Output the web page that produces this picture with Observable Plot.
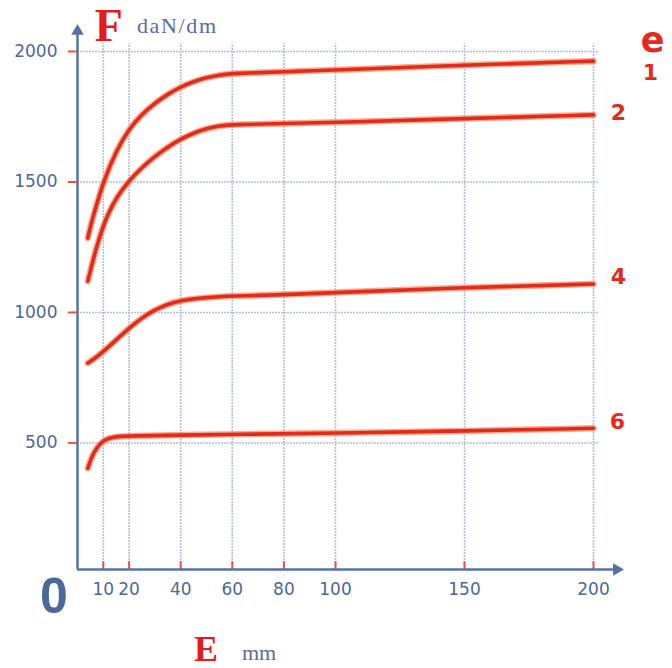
<!DOCTYPE html>
<html><head><meta charset="utf-8">
<script src="https://cdn.jsdelivr.net/npm/d3@7"></script>
<script src="https://cdn.jsdelivr.net/npm/@observablehq/plot@0.6"></script>
<style>body{margin:0;background:#fff}</style>
</head><body><div id="chart"></div>
<script>
// Tick values
const xTicks = [10, 20, 40, 60, 80, 100, 150, 200];
const yTicks = [500, 1000, 1500, 2000];
// Series (e = thickness) : E (mm) vs F (daN/dm)
const seriesNames = ["1", "2", "4", "6"];
const e1X = [4, 5, 7, 10, 15, 20, 25, 30, 35, 40, 45, 50, 55, 60, 80, 100, 150, 200];
const e1F = [1285, 1329, 1400, 1500, 1620, 1704, 1760, 1802, 1837, 1864, 1885, 1900, 1910, 1916, 1922, 1929, 1948, 1963];
const e2X = [4, 6, 8, 10, 12, 15, 20, 25, 30, 35, 40, 45, 50, 55, 60, 80, 100, 150, 200];
const e2F = [1120, 1200, 1270, 1332, 1380, 1440, 1505, 1556, 1598, 1634, 1664, 1688, 1705, 1715, 1720, 1724, 1728, 1743, 1757];
const e4X = [4, 7, 10, 15, 20, 25, 30, 35, 40, 50, 60, 80, 100, 150, 200];
const e4F = [806, 826, 850, 895, 940, 980, 1010, 1032, 1046, 1058, 1063, 1068, 1076, 1096, 1109];
const e6X = [4, 5.5, 7.5, 10, 14, 20, 40, 60, 100, 150, 200];
const e6F = [403, 447, 483, 511, 524, 527, 530, 533, 537, 546, 556];

const xsAll = [e1X, e2X, e4X, e6X];
const fsAll = [e1F, e2F, e4F, e6F];
const rows = [];
seriesNames.forEach((s, i) => xsAll[i].forEach((x, j) => rows.push({e: s, E: x, F: fsAll[i][j]})));
const ends = seriesNames.map((s, i) => ({e: s, E: xsAll[i].at(-1), F: fsAll[i].at(-1)}));

// layout / style (not data)
const yMin = 15, gridTop = 2030, yArrow = 2078, xArrow = 209, hGridEnd = 202;
const labelOffsets = {"1": [57, 18.6], "2": [25, 5], "4": [25, 0], "6": [24, 0.5]};
const blue = "#4b6898", axisBlue = "#5672a4", gridC = "#b3bfdb", tickC = "#e8553a";
const red = "#e42a1c";

const chart = Plot.plot({
  width: 672, height: 668,
  marginLeft: 77, marginRight: 79, marginTop: 51, marginBottom: 99,
  x: {domain: [0, 200], label: null},
  y: {domain: [yMin, 2000], label: null},
  style: {fontFamily: "DejaVu Sans", background: "#fff", overflow: "visible"},
  marks: [
    Plot.ruleY(yTicks, {x1: 0, x2: hGridEnd, stroke: gridC, strokeWidth: 1.6, strokeDasharray: "2,1"}),
    Plot.ruleX(xTicks, {y1: yMin, y2: gridTop, stroke: gridC, strokeWidth: 1.6, strokeDasharray: "2,1"}),
    Plot.ruleX(xTicks, {y1: yMin, y2: yMin + 30, stroke: tickC, strokeWidth: 2}),
    Plot.ruleX([0], {y1: yMin, y2: yArrow, stroke: axisBlue, strokeWidth: 2.5}),
    Plot.ruleY([yMin], {x1: 0, x2: xArrow, stroke: axisBlue, strokeWidth: 2.5}),
    Plot.dot([{x: 0, y: yArrow}], {x: "x", y: "y", symbol: "triangle2", r: 6, fill: axisBlue, stroke: "none"}),
    Plot.dot([{x: xArrow, y: yMin}], {x: "x", y: "y", symbol: "triangle2", r: 6, fill: axisBlue, stroke: "none", rotate: 90}),
    Plot.axisY(yTicks, {tickSize: 9, tickPadding: 11, fontSize: 17, fill: blue, stroke: tickC, strokeWidth: 2, label: null, tickFormat: d => String(d)}),
    Plot.axisX(xTicks, {tickSize: 0, tickPadding: 13, fontSize: 17, fill: blue, label: null, tickFormat: d => String(d)}),
    Plot.line(rows, {x: "E", y: "F", z: "e", curve: "basis", stroke: "#f3916a", strokeWidth: 6.5, strokeOpacity: 0.75}),
    Plot.line(rows, {x: "E", y: "F", z: "e", curve: "basis", stroke: red, strokeWidth: 3.6}),
    ...seriesNames.map(s => Plot.text(ends.filter(d => d.e === s), {
      x: "E", y: "F", text: "e", dx: labelOffsets[s][0], dy: labelOffsets[s][1],
      lineAnchor: "bottom", textAnchor: "middle", fill: red,
      fontFamily: "DejaVu Sans", fontWeight: "bold", fontSize: 22
    })),
    Plot.text(["e"], {frameAnchor: "top-right", dx: 59, dy: 0.5, lineAnchor: "bottom", textAnchor: "middle",
      fill: red, fontFamily: "DejaVu Sans", fontWeight: "bold", fontSize: 35}),
    Plot.text(["F"], {frameAnchor: "top-left", dx: 17.3, dy: -10.5, lineAnchor: "bottom", textAnchor: "start",
      fill: "#e41b17", fontFamily: "Liberation Serif", fontWeight: "bold", fontSize: 46}),
    Plot.text(["daN/dm"], {frameAnchor: "top-left", dx: 59.5, dy: -18.7, lineAnchor: "bottom", textAnchor: "start",
      fill: "#5b6c9c", fontFamily: "Liberation Serif", fontSize: 22}),
    Plot.text(["E"], {frameAnchor: "bottom-left", dx: 116.5, dy: 91, lineAnchor: "bottom", textAnchor: "start",
      fill: "#e41b17", fontFamily: "Liberation Serif", fontWeight: "bold", fontSize: 36}),
    Plot.text(["mm"], {frameAnchor: "bottom-left", dx: 164.4, dy: 90.3, lineAnchor: "bottom", textAnchor: "start",
      fill: "#5b6c9c", fontFamily: "Liberation Serif", fontSize: 22}),
    Plot.text(["0"], {frameAnchor: "bottom-left", dx: -23.6, dy: 43.8, lineAnchor: "bottom", textAnchor: "middle",
      fill: blue, fontFamily: "Liberation Sans", fontWeight: "bold", fontSize: 50})
  ]
});
d3.select(chart).selectAll("text").filter(function () { return this.textContent === "daN/dm"; })
  .attr("textLength", 79).attr("lengthAdjust", "spacing");
document.getElementById("chart").appendChild(chart);
</script>
</body></html>
